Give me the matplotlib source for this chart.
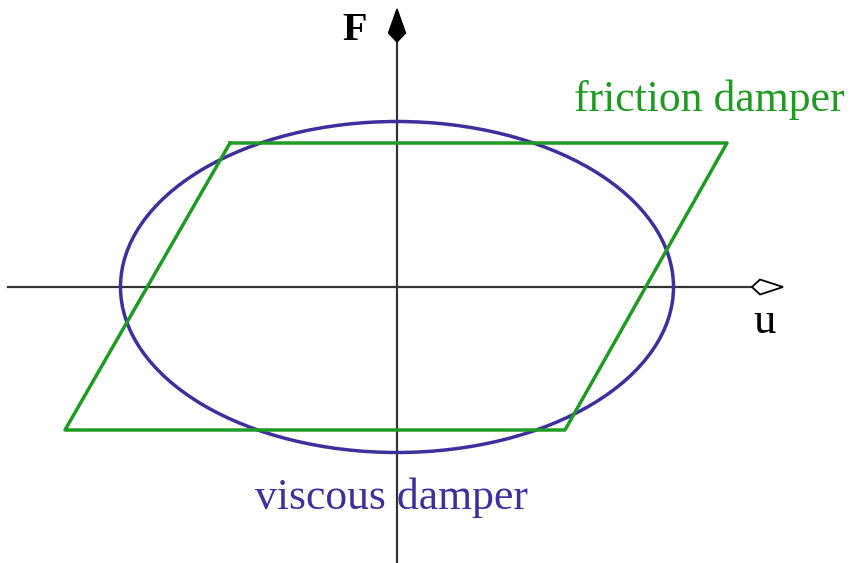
import numpy as np
import matplotlib.pyplot as plt
from matplotlib.patches import Ellipse, Polygon

# values in picture units, origin where the axes cross
viscous_width = 553
viscous_height = 331
friction_u = [-167, 330, 168, -332, -167]
friction_F = [144, 144, -143, -143, 144]

blue = '#3d309c'
green = '#1f9a22'

fig = plt.figure(figsize=(8.52, 5.63), dpi=100)
ax = fig.add_axes([0, 0, 1, 1])
ax.set_xlim(-397, 455)
ax.set_ylim(-276, 287)
ax.axis('off')

# axes lines
ax.plot([-389, 357], [0, 0], color='#333333', lw=1.6, zorder=1)
ax.plot([0, 0], [-276, 248], color='#333333', lw=1.6, zorder=1)

# arrow heads
ax.add_patch(Polygon([(355, 0), (363, 7.5), (386, 0), (363, -7.5)], closed=True,
                     facecolor='white', edgecolor='black', lw=1.3, zorder=3))
ax.add_patch(Polygon([(0, 245), (-8.5, 254), (0, 278), (8.5, 254)], closed=True,
                     facecolor='black', edgecolor='black', lw=1, zorder=3))

# viscous damper
ax.add_patch(Ellipse((0, 0), viscous_width, viscous_height, fill=False,
                     edgecolor=blue, lw=2.5, zorder=2))
# friction damper
ax.plot(friction_u, friction_F, color=green, lw=2.5, zorder=2)

serif = 'Liberation Serif'
ax.text(-42, 256, 'F', fontsize=29, family=serif, weight='bold',
        ha='center', va='center')
ax.text(368, -35, 'u', fontsize=32, family=serif, ha='center', va='center')
ax.text(312, 187, 'friction damper', fontsize=31.5, family=serif, color=green,
        ha='center', va='center')
ax.text(-6, -211, 'viscous damper', fontsize=31.5, family=serif, color=blue,
        ha='center', va='center')

fig.savefig('out.png', dpi=100)
